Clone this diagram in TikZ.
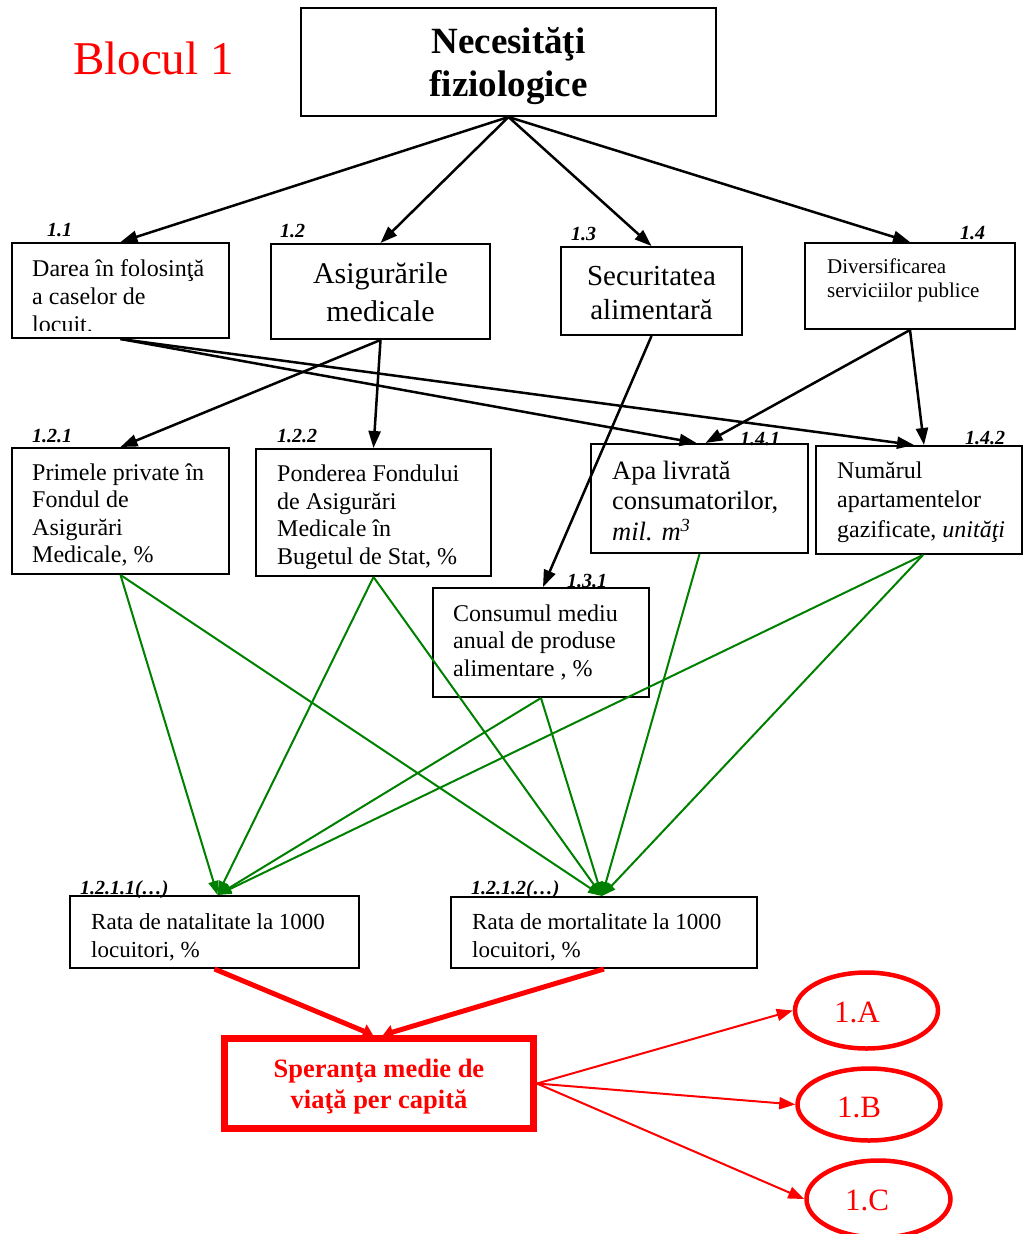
\documentclass[tikz,border=0pt]{standalone}
\usepackage{fontspec}
\setmainfont{Liberation Serif}
\usetikzlibrary{arrows.meta,calc,shapes.geometric}
\definecolor{dgreen}{RGB}{0,128,0}
\newcommand{\mystrut}{\rule{0pt}{40pt}}
\newcommand{\boxtxt}[4]{\begin{scope}\clip (#1.north west) rectangle ($(#1.south east)+(0,-9)$);\node[txt,#3] (#1t) at #2 {#4};\end{scope}}
\tikzset{
  box/.style={draw, line width=2pt, inner sep=0pt},
  txt/.style={inner sep=0pt, align=left, anchor=north west},
  fsz/.style 2 args={font=\fontsize{#1}{#2}\selectfont},
  lbl/.style={font=\fontsize{20}{24}\selectfont\bfseries\itshape, inner sep=0pt, anchor=base west},
  barr/.style={line width=2.5pt, -{Triangle[length=17pt,width=12pt]}},
  garr/.style={draw=dgreen, fill=dgreen, line width=2pt, -{Triangle[length=14pt,width=10pt]}},
  rthick/.style={red, line width=5pt, -{Triangle[length=10pt,width=14pt]}},
  rthin/.style={red, line width=2pt, -{Triangle[length=16pt,width=12pt]}},
  ell/.style={ellipse, draw=red, line width=4.5pt, inner sep=0pt},
  etxt/.style={font=\fontsize{31}{36}\selectfont, text=red, inner sep=0pt, anchor=base west}
}
\begin{document}
\begin{tikzpicture}[x=1pt,y=-1pt]
\useasboundingbox (0,0) rectangle (1024,1234);

% title
\node[font=\fontsize{47}{56}\selectfont, text=red, inner sep=0pt, anchor=base west] (blk) at (73,74) {Blocul 1};

% labels
\node[lbl] (l11) at (47,236) {1.1};
\node[lbl] (l12) at (280,237) {1.2};
\node[lbl] (l13) at (571,240) {1.3};
\node[lbl] (l14) at (960,239) {1.4};
\node[lbl] (l121) at (32,442) {1.2.1};
\node[lbl] (l122) at (277,442) {1.2.2};
\node[lbl] (l141) at (740,445) {1.4.1};
\node[lbl] (l142) at (965,444) {1.4.2};
\node[lbl] (l131) at (567,587) {1.3.1};
\node[lbl] (l1211) at (80,894) {1.2.1.1(…)};
\node[lbl] (l1212) at (471,894) {1.2.1.2(…)};

% boxes
\node[box, minimum width=415pt, minimum height=108pt] (n0) at (508.5,62) {};
\node[box, minimum width=217pt, minimum height=95pt] (n11) at (120.5,290.5) {};
\node[box, minimum width=219pt, minimum height=95pt] (n12) at (380.5,291.5) {};
\node[box, minimum width=181pt, minimum height=88pt] (n13) at (651.5,291) {};
\node[box, minimum width=210pt, minimum height=86pt] (n14) at (910,286) {};
\node[box, minimum width=217pt, minimum height=126pt] (n121) at (120.5,511) {};
\node[box, minimum width=235pt, minimum height=127pt] (n122) at (373.5,512.5) {};
\node[box, minimum width=217pt, minimum height=109pt] (n141) at (699.5,498.5) {};
\node[box, minimum width=206pt, minimum height=108pt] (n142) at (919,500) {};
\node[box, minimum width=216pt, minimum height=109pt] (n131) at (541,642.5) {};
\node[box, minimum width=289pt, minimum height=72pt] (n1211) at (214.5,932) {};
\node[box, minimum width=306pt, minimum height=71pt] (n1212) at (604,932.5) {};
\node[draw=red, line width=7pt, inner sep=0pt, minimum width=309pt, minimum height=90pt] (nsp) at (379,1083.5) {};
\node[ell, minimum width=143pt, minimum height=76pt] (eA) at (866.5,1010.5) {};
\node[ell, minimum width=143pt, minimum height=72pt] (eB) at (869,1104.5) {};
\node[ell, minimum width=144pt, minimum height=77pt] (eC) at (878.5,1199) {};

% texts
\node[inner sep=0pt, align=center, anchor=north, font=\fontsize{37}{43}\selectfont\bfseries] (n0t) at (508.5,13) {\mystrut Necesităţi\\fiziologice};
\boxtxt{n11}{(32,236)}{fsz={24}{28}}{\mystrut Darea în folosinţă\\a caselor de\\locuit.}
\node[inner sep=0pt, align=center, anchor=north, fsz={30}{38}] (n12t) at (380.5,243) {\mystrut Asigurările\\medicale};
\node[inner sep=0pt, align=center, anchor=north, fsz={29}{34}] (n13t) at (651.5,245) {\mystrut Securitatea\\alimentară};
\boxtxt{n14}{(827,233)}{fsz={21}{24}}{\mystrut Diversificarea\\serviciilor publice}
\boxtxt{n121}{(32,440)}{fsz={24}{27.5}}{\mystrut Primele private în\\Fondul de\\Asigurări\\Medicale, \%}
\boxtxt{n122}{(277,441.5)}{fsz={24}{27.5}}{\mystrut Ponderea Fondului\\de Asigurări\\Medicale în\\Bugetul de Stat, \%}
\boxtxt{n141}{(612,439)}{fsz={26.5}{30.5}}{\mystrut Apa livrată\\consumatorilor,\\\textit{mil. m\textsuperscript{3}}}
\boxtxt{n142}{(837,438)}{fsz={24}{29.5}}{\mystrut Numărul\\apartamentelor\\gazificate, \textit{unităţi}}
\boxtxt{n131}{(453,581)}{fsz={24}{27.5}}{\mystrut Consumul mediu\\anual de produse\\alimentare , \%}
\boxtxt{n1211}{(91,889)}{fsz={23}{28}}{\mystrut Rata de natalitate la 1000\\locuitori, \%}
\boxtxt{n1212}{(472,889)}{fsz={23}{28}}{\mystrut Rata de mortalitate la 1000\\locuitori, \%}
\node[inner sep=0pt, align=center, anchor=north, text=red, font=\fontsize{26.5}{31}\selectfont\bfseries] (nspt) at (379,1037) {\mystrut Speranţa medie de\\viaţă per capită};
\node[etxt] (eAt) at (834,1022) {1.A};
\node[etxt] (eBt) at (837,1117) {1.B};
\node[etxt] (eCt) at (845,1210) {1.C};

% black connectors
\draw[barr] (n0.south) -- (n11.north);
\draw[barr] (n0.south) -- (n12.north);
\draw[barr] (n0.south) -- (n13.north);
\draw[barr] (n0.south) -- (n14.north);
\draw[barr] (n11.south) -- ([xshift=-3pt]n141.north);
\draw[barr] (n11.south) -- ([xshift=-5pt]n142.north);
\draw[barr] (n12.south) -- (n121.north);
\draw[barr] (n12.south) -- (n122.north);
\draw[barr] (n13.south) -- ([xshift=2pt]n131.north);
\draw[barr] (n14.south) -- ([xshift=6pt]n141.north);
\draw[barr] (n14.south) -- ([xshift=5pt]n142.north);

% green connectors
\draw[garr] (n121.south) -- ([xshift=3pt]n1211.north);
\draw[garr] (n122.south) -- ([xshift=3pt]n1211.north);
\draw[garr] (n131.south) -- ([xshift=3pt]n1211.north);
\draw[garr] ([xshift=4pt]n142.south) -- ([xshift=3pt]n1211.north);
\draw[garr] (n121.south) -- ([xshift=-2pt]n1212.north);
\draw[garr] (n122.south) -- ([xshift=-2pt]n1212.north);
\draw[garr] (n131.south) -- ([xshift=-2pt]n1212.north);
\draw[garr] (n141.south) -- ([xshift=-2pt]n1212.north);
\draw[garr] ([xshift=4pt]n142.south) -- ([xshift=-2pt]n1212.north);

% red connectors
\draw[rthick] (n1211.south) -- ([xshift=-6pt]nsp.north);
\draw[rthick] (n1212.south) -- ([xshift=4pt]nsp.north);
\draw[rthin] (nsp.east) -- (eA.west);
\draw[rthin] (nsp.east) -- (eB.west);
\draw[rthin] (nsp.east) -- (eC.west);
\end{tikzpicture}
\end{document}
